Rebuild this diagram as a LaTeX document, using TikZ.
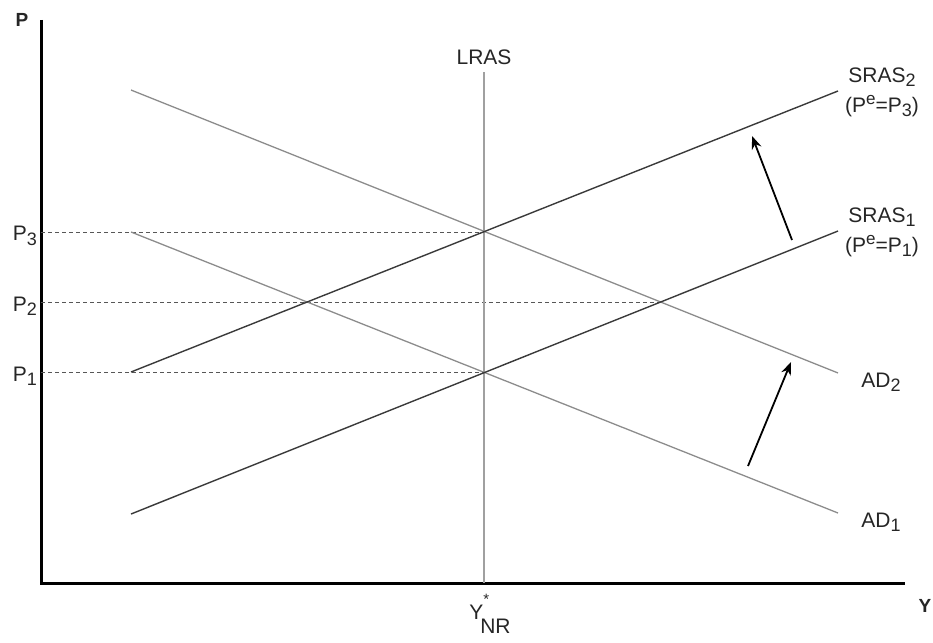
\documentclass[tikz,border=0pt]{standalone}
\usepackage{fontspec}
\setmainfont{Liberation Sans}
\usetikzlibrary{arrows.meta}
\definecolor{srasc}{HTML}{3A3A3A}
\definecolor{adc}{HTML}{8C8C8C}
\definecolor{lrasc}{HTML}{A0A0A0}
\newcommand{\lsub}[1]{\raisebox{-0.4ex}{\fontsize{18}{18}\selectfont #1}}
\newcommand{\lsup}[1]{\raisebox{0.7ex}{\fontsize{17}{17}\selectfont #1}}
\begin{document}
\begin{tikzpicture}[x=1pt,y=-1pt,
  axis/.style={line width=3pt,black},
  srasline/.style={line width=1.4pt,srasc},
  adline/.style={line width=1.3pt,adc},
  lrasline/.style={line width=1.8pt,lrasc},
  guide/.style={line width=1pt,srasc!85,dash pattern=on 4pt off 3pt},
  shiftarrow/.style={line width=1.8pt,black,-{Stealth[length=13pt,width=10pt]}},
  lbl/.style={font=\fontsize{21}{30}\selectfont,text=black!85,inner sep=0pt},
  axlbl/.style={font=\fontsize{19}{20}\selectfont\bfseries,text=black!85,inner sep=0pt}]
\useasboundingbox (0,0) rectangle (933,642);
% axes
\coordinate (O) at (41,583);
\coordinate (ytop) at (41,20);
\coordinate (xend) at (905,583);
\draw[axis] (ytop) -- (O) -- (xend);
\node[axlbl] (Plab) at (22,20) {P};
\node[axlbl] (Ylab) at (925,606) {Y};
% key points
\coordinate (E1) at (484,372);
\coordinate (E3) at (484,232);
\coordinate (E2a) at (308,302);
\coordinate (E2b) at (660,302);
\coordinate (p1) at (41,372);
\coordinate (p2) at (41,302);
\coordinate (p3) at (41,232);
% dashed guides
\draw[guide] (p3) -- (E3);
\draw[guide] (p2) -- (E2b);
\draw[guide] (p1) -- (E1);
% LRAS
\coordinate (lrastop) at (484,72);
\coordinate (lrasbot) at (484,583);
\draw[lrasline] (lrastop) -- (lrasbot);
\node[lbl] (lraslab) at (484,57) {LRAS};
% AD curves
\coordinate (ad1s) at (131,232);
\coordinate (ad1e) at (838,513);
\coordinate (ad2s) at (131,90);
\coordinate (ad2e) at (838,373);
\draw[adline] (ad1s) -- (ad1e);
\draw[adline] (ad2s) -- (ad2e);
% SRAS curves
\coordinate (s1s) at (131,514);
\coordinate (s1e) at (838,231);
\coordinate (s2s) at (131,372);
\coordinate (s2e) at (838,91);
\draw[srasline] (s1s) -- (s1e);
\draw[srasline] (s2s) -- (s2e);
% labels
\node[lbl,anchor=east] (P3lab) at (37,236) {P\lsub{3}};
\node[lbl,anchor=east] (P2lab) at (37,306) {P\lsub{2}};
\node[lbl,anchor=east] (P1lab) at (37,376) {P\lsub{1}};
\node[lbl,align=center] (s2lab) at (882,92) {SRAS\lsub{2}\\(P\lsup{e}=P\lsub{3})};
\node[lbl,align=center] (s1lab) at (882,232) {SRAS\lsub{1}\\(P\lsup{e}=P\lsub{1})};
\node[lbl] (ad2lab) at (881,382) {AD\lsub{2}};
\node[lbl] (ad1lab) at (881,522) {AD\lsub{1}};
\node[lbl] (ynr) at (490,614) {Y\rlap{\raisebox{1.3ex}{\fontsize{15}{15}\selectfont *}}\hspace{-0.15em}\raisebox{-1.3ex}{NR}};
% shift arrows
\coordinate (a1s) at (748,466);
\coordinate (a1e) at (791,362);
\coordinate (a2s) at (792,240);
\coordinate (a2e) at (752,136);
\draw[shiftarrow] (a1s) -- (a1e);
\draw[shiftarrow] (a2s) -- (a2e);
\end{tikzpicture}
\end{document}
